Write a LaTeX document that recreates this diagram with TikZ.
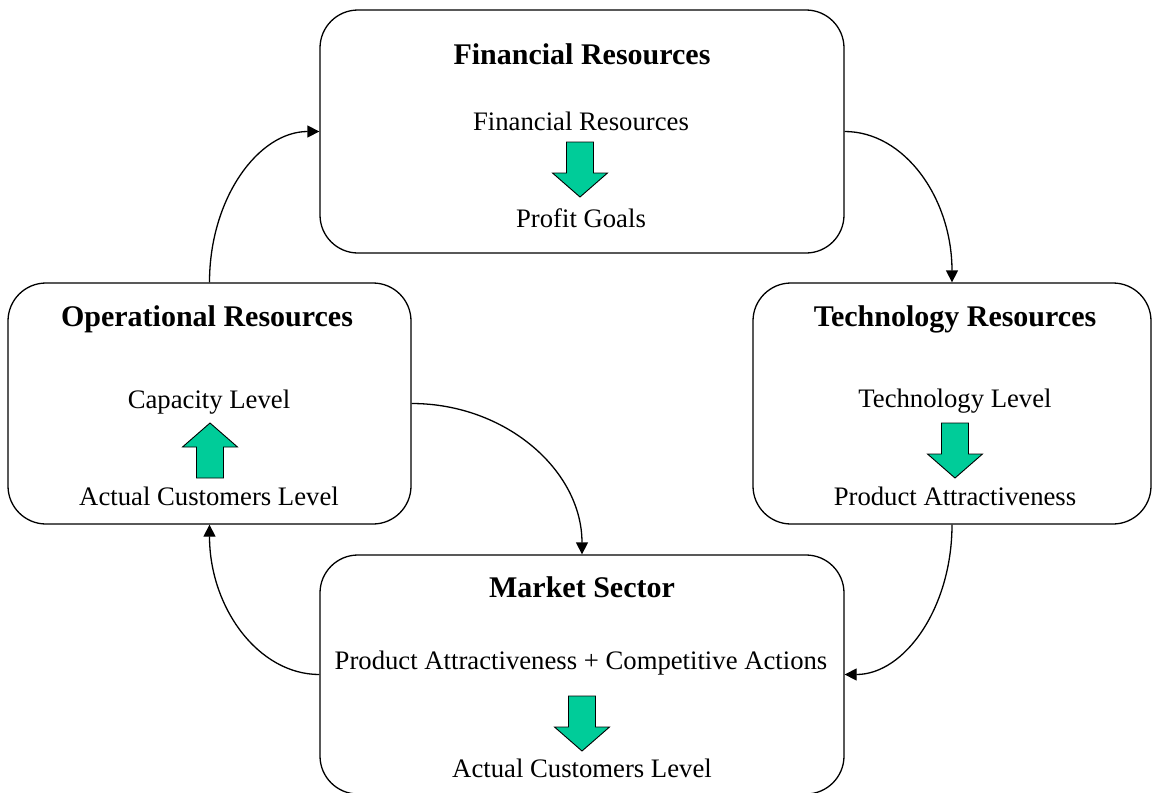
\documentclass[tikz,border=0pt]{standalone}
\usepackage{fontspec}
\setmainfont{Liberation Serif}
\usetikzlibrary{arrows.meta}
\definecolor{arrowgreen}{RGB}{0,204,153}
\tikzset{
  box/.style={draw=black, line width=1.3pt, rounded corners=38pt, inner sep=0pt, fill=white},
  ttl/.style={anchor=base, inner sep=0pt, font=\fontsize{30}{36}\selectfont\bfseries},
  txt/.style={anchor=base, inner sep=0pt, font=\fontsize{26.7}{32}\selectfont},
  conn/.style={draw=black, line width=1.3pt, -{Triangle[length=12pt,width=12pt]}},
  garrow/.pic={\draw[fill=arrowgreen, line width=0.9pt, line join=miter]
     (-13.5,0) -- (13.5,0) -- (13.5,31) -- (27.5,31) -- (0,55) -- (-27.5,31) -- (-13.5,31) -- cycle;}
}
\begin{document}
\begin{tikzpicture}[x=1pt, y=-1pt]
\useasboundingbox (0,0) rectangle (1152,793);
% boxes
\node[box, minimum width=524pt, minimum height=243pt] (fin) at (582,131.5) {};
\node[box, minimum width=403pt, minimum height=241pt] (op) at (209.5,403.5) {};
\node[box, minimum width=398pt, minimum height=241pt] (tech) at (952,403.5) {};
\node[box, minimum width=524pt, minimum height=239pt] (mkt) at (582,674.5) {};
% financial
\node[ttl] (fint) at (582,64) {Financial Resources};
\node[txt] (fin1) at (581,130) {Financial Resources};
\pic at (580,142) {garrow};
\node[txt] (fin2) at (581,227) {Profit Goals};
% operational
\node[ttl] (opt) at (207,326) {Operational Resources};
\node[txt] (op1) at (209,408) {Capacity Level};
\pic[rotate=180] at (210,478) {garrow};
\node[txt] (op2) at (209,505) {Actual Customers Level};
% technology
\node[ttl] (techt) at (955,326) {Technology Resources};
\node[txt] (tech1) at (955,407) {Technology Level};
\pic at (955,423) {garrow};
\node[txt] (tech2) at (955,505) {Product Attractiveness};
% market
\node[ttl] (mktt) at (582,597) {Market Sector};
\node[txt] (mkt1) at (581,669) {Product Attractiveness + Competitive Actions};
\pic at (582,696) {garrow};
\node[txt] (mkt2) at (582,777) {Actual Customers Level};
% connectors
\draw[conn] (op.north) .. controls +(0,-84) and +(-61,0) .. (fin.west);
\draw[conn] (fin.east) .. controls +(60,0) and +(0,-84) .. (tech.north);
\draw[conn] (tech.south) .. controls +(0,83) and +(60,0) .. (mkt.east);
\draw[conn] (mkt.west) .. controls +(-61,0) and +(0,83) .. (op.south);
\draw[conn] (op.east) .. controls +(94,0) and +(0,-84) .. (mkt.north);
\end{tikzpicture}
\end{document}
